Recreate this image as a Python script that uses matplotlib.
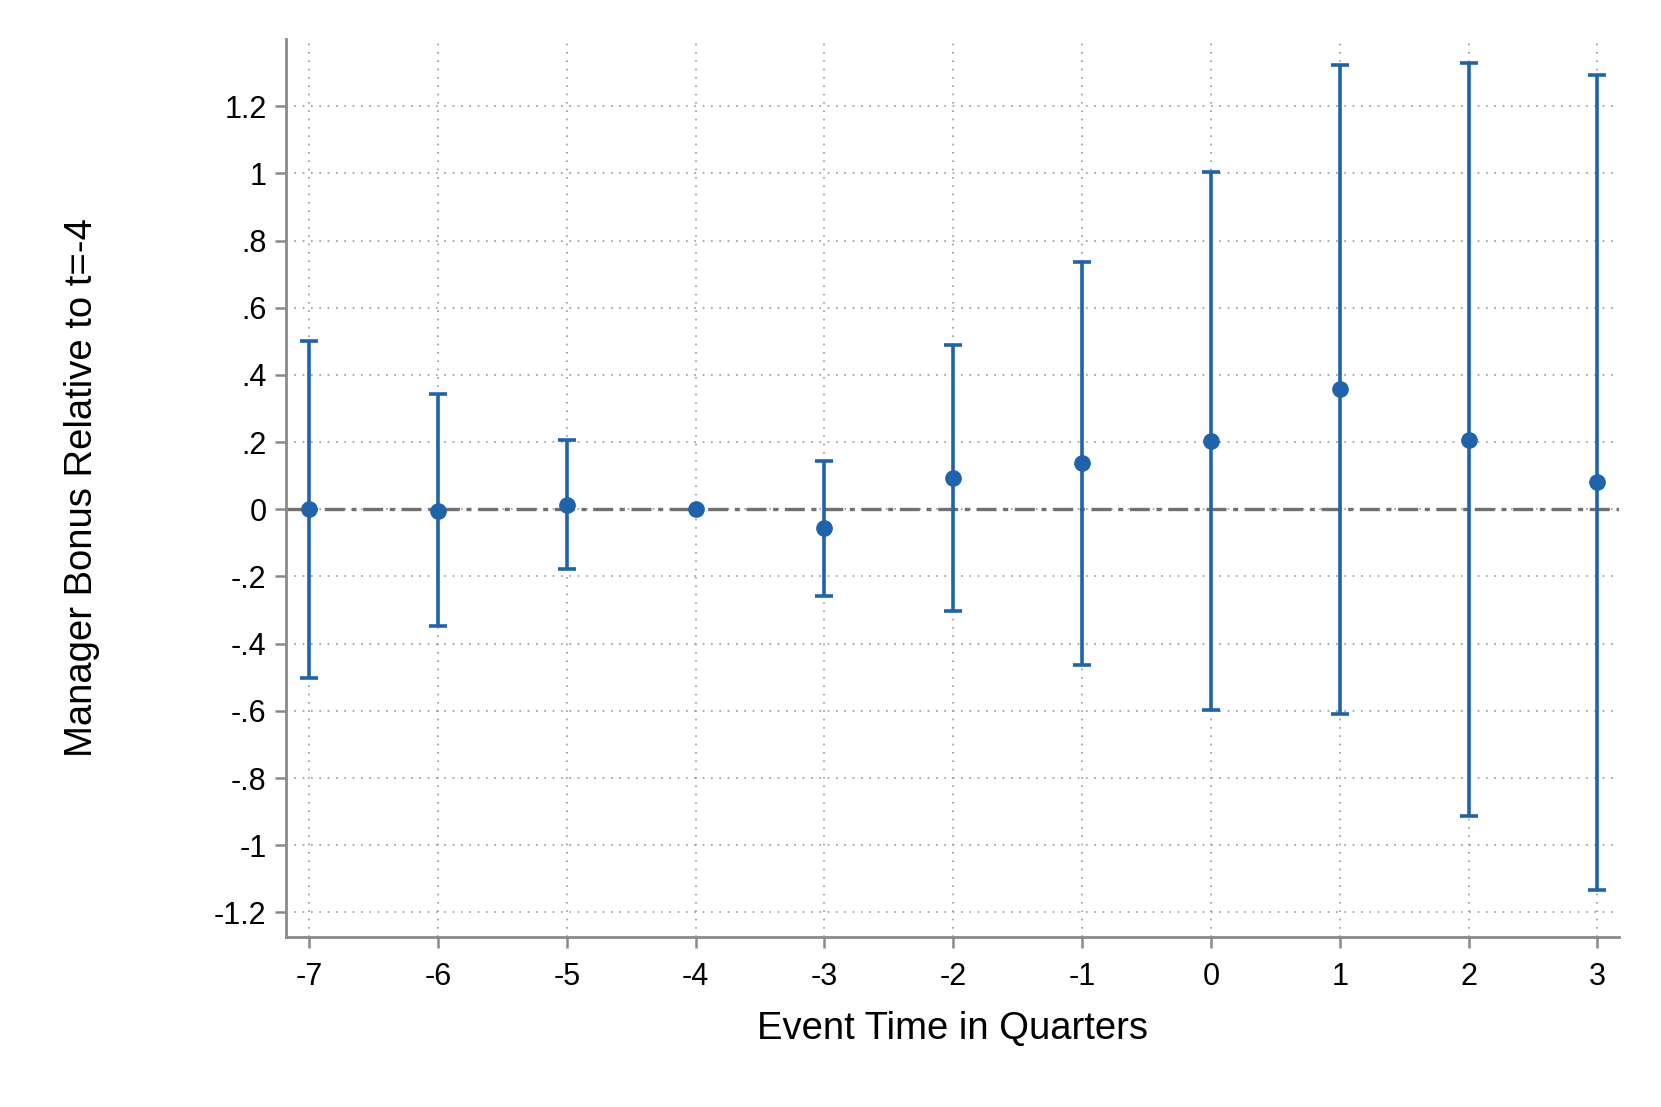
import matplotlib
matplotlib.use("Agg")
import matplotlib.pyplot as plt
import numpy as np

# ---- data ----
event_time = [-7, -6, -5, -4, -3, -2, -1, 0, 1, 2, 3]
coef = [0.000, -0.004, 0.014, 0.000, -0.057, 0.094, 0.137, 0.202, 0.357, 0.207, 0.081]
ci_low = [-0.502, -0.348, -0.178, 0.000, -0.259, -0.304, -0.462, -0.596, -0.608, -0.914, -1.132]
ci_high = [0.501, 0.343, 0.206, 0.000, 0.144, 0.490, 0.735, 1.003, 1.322, 1.328, 1.293]

y_ticks = [1.2, 1, 0.8, 0.6, 0.4, 0.2, 0, -0.2, -0.4, -0.6, -0.8, -1, -1.2]
y_ticklabels = ["1.2", "1", ".8", ".6", ".4", ".2", "0", "-.2", "-.4", "-.6", "-.8", "-1", "-1.2"]

BLUE = "#1f63ac"
GRAY = "#8a8a8a"

plt.rcParams["font.family"] = ["Liberation Sans", "DejaVu Sans"]

fig = plt.figure(figsize=(16.61, 11.07), dpi=100)
ax = fig.add_axes([0.1722, 0.1536, 0.9745 - 0.1722, 0.9648 - 0.1536])

x = np.array(event_time)
y = np.array(coef)
lo = np.array(ci_low)
hi = np.array(ci_high)
has_ci = hi > lo  # t=-4 is the reference period, no interval

ax.axhline(0, color="#707070", linewidth=2.4, linestyle=(0, (6, 2, 1.5, 2)), zorder=2)
ax.errorbar(x[has_ci], y[has_ci], yerr=[y[has_ci] - lo[has_ci], hi[has_ci] - y[has_ci]],
            fmt="none", ecolor=BLUE, elinewidth=2.6, capsize=6.5, capthick=2.6, zorder=3)
ax.plot(x, y, "o", color=BLUE, markersize=11, zorder=4)

ax.set_xlim(-7.18, 3.165)
ax.set_ylim(-1.273, 1.40)
ax.set_xticks(event_time)
ax.set_xticklabels([str(t) for t in event_time])
ax.set_yticks(y_ticks)
ax.set_yticklabels(y_ticklabels)

ax.grid(True, linestyle=(0, (1, 4)), color="#9a9a9a", linewidth=1.2)
ax.set_axisbelow(True)

for side in ["top", "right"]:
    ax.spines[side].set_visible(False)
for side in ["left", "bottom"]:
    ax.spines[side].set_color(GRAY)
    ax.spines[side].set_linewidth(2.0)

ax.tick_params(axis="both", colors=GRAY, length=8, width=1.8, labelsize=22, labelcolor="black")
ax.tick_params(axis="x", pad=10)
ax.tick_params(axis="y", pad=6)

ax.set_xlabel("Event Time in Quarters", fontsize=27.5, labelpad=14)
ax.set_ylabel("Manager Bonus Relative to t=-4", fontsize=27.5, labelpad=82)

fig.savefig("out.png", dpi=100, facecolor="white")
